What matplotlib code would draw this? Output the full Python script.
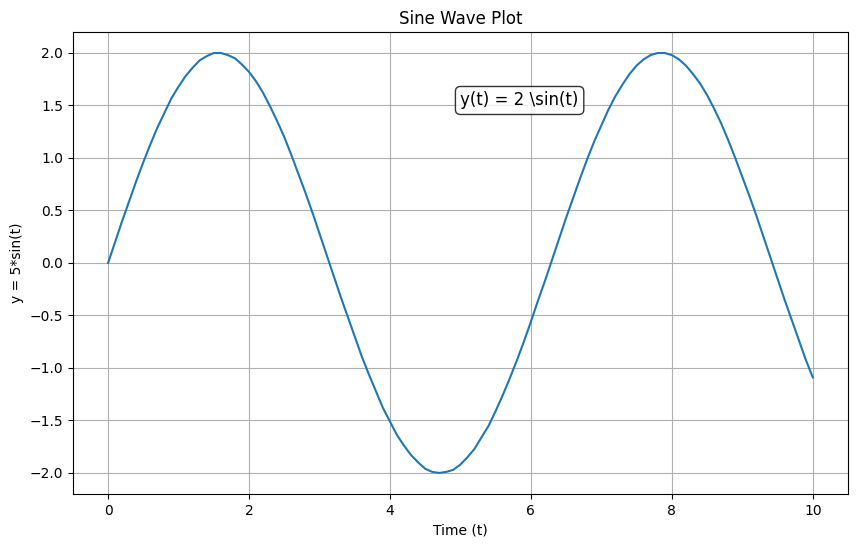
import numpy as np
import matplotlib
matplotlib.use("Agg")
import matplotlib.pyplot as plt

# Time samples (t = 0.0, 0.1, ..., 10.0)
t_start, t_stop, n_samples = 0.0, 10.0, 101
# y values
y_values = [
    0.00, 0.20, 0.40, 0.59, 0.78, 0.96, 1.13, 1.29, 1.43, 1.57,
    1.68, 1.78, 1.86, 1.93, 1.97, 2.00, 2.00, 1.98, 1.95, 1.89,
    1.82, 1.73, 1.62, 1.49, 1.35, 1.20, 1.03, 0.85, 0.67, 0.48,
    0.28, 0.08, -0.12, -0.32, -0.51, -0.70, -0.89, -1.06, -1.22, -1.38,
    -1.51, -1.64, -1.74, -1.83, -1.90, -1.96, -1.99, -2.00, -1.99, -1.97,
    -1.92, -1.85, -1.77, -1.66, -1.55, -1.41, -1.26, -1.10, -0.93, -0.75,
    -0.56, -0.36, -0.17, 0.03, 0.23, 0.43, 0.62, 0.81, 0.99, 1.16,
    1.31, 1.46, 1.59, 1.70, 1.80, 1.88, 1.94, 1.98, 2.00, 2.00,
    1.98, 1.94, 1.88, 1.80, 1.71, 1.60, 1.47, 1.33, 1.17, 1.00,
    0.82, 0.64, 0.45, 0.25, 0.05, -0.15, -0.35, -0.54, -0.73, -0.92,
    -1.09,
]
title = "Sine Wave Plot"
xlabel = "Time (t)"
ylabel = "y = 5*sin(t)"
annotation = r"y(t) = 2 \sin(t)"

t = np.linspace(t_start, t_stop, n_samples)

fig = plt.figure(figsize=(8.57, 5.47), dpi=100)
ax = fig.add_axes([0.085, 0.097, 0.9045, 0.8445])
ax.plot(t, y_values, color="#1f77b4", linewidth=1.5)
ax.set_title(title)
ax.set_xlabel(xlabel)
ax.set_ylabel(ylabel)
ax.grid(True)
ax.text(5.0, 1.5, annotation, fontsize=12,
        bbox=dict(boxstyle="round", facecolor="white", alpha=0.8))
fig.savefig("out.png", dpi=100)
